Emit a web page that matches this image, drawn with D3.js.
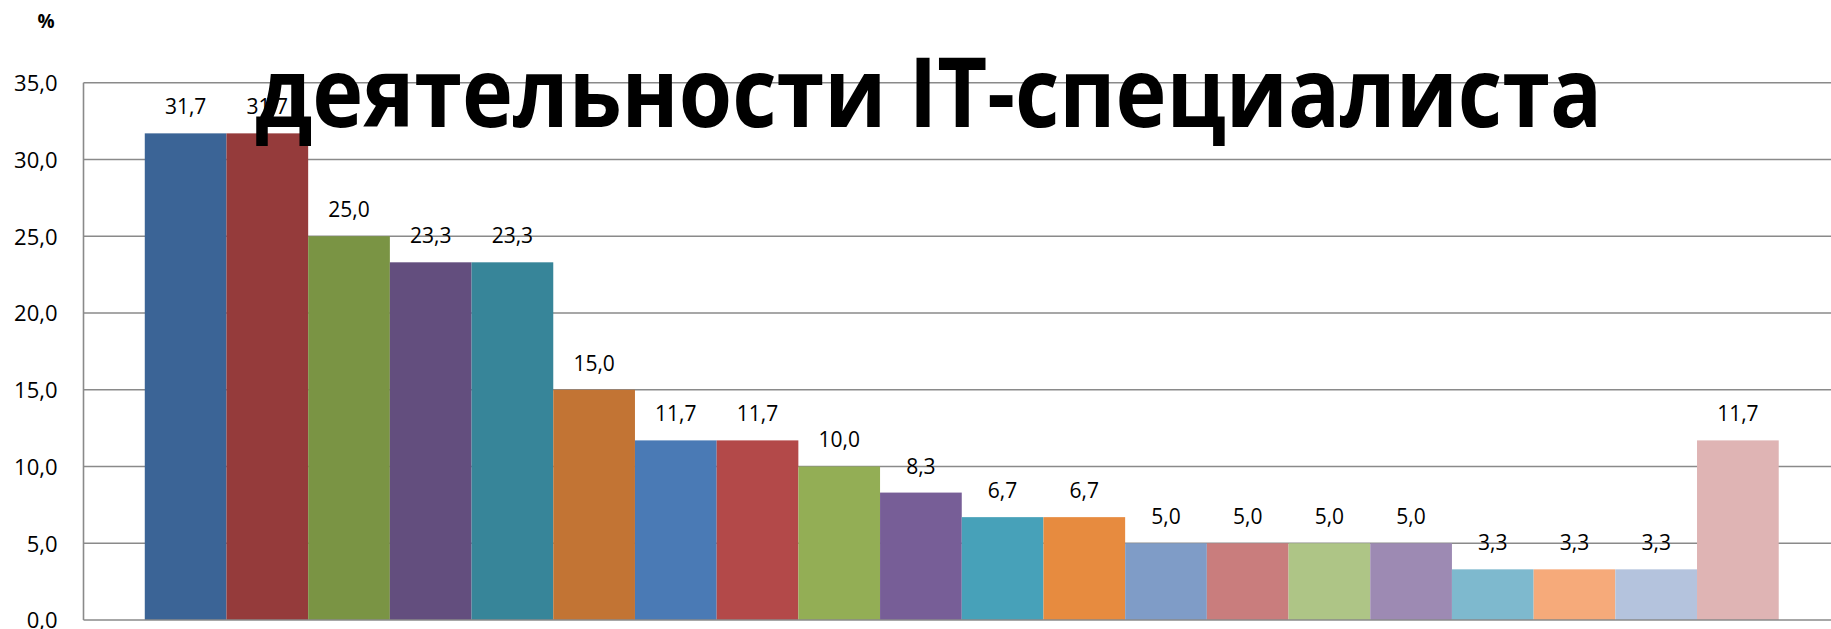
<!DOCTYPE html>
<html>
<head>
<meta charset="utf-8">
<script src="https://cdn.jsdelivr.net/npm/d3@7"></script>
<style>
  html, body { margin: 0; padding: 0; background: #fff; }
  svg { display: block; }
</style>
</head>
<body>
<div id="chart"></div>
<script>
// series (one bar each)
const series = ["s1", "s2", "s3", "s4", "s5", "s6", "s7", "s8", "s9", "s10",
    "s11", "s12", "s13", "s14", "s15", "s16", "s17", "s18", "s19", "s20"];
const values = [31.7, 31.7, 25.0, 23.3, 23.3, 15.0, 11.7, 11.7, 10.0, 8.3,
    6.7, 6.7, 5.0, 5.0, 5.0, 5.0, 3.3, 3.3, 3.3, 11.7];
const colors = ["#3b6496", "#953b3b", "#7a9444", "#634e7e", "#378599", "#c27434",
    "#4a7ab5", "#b34949", "#93ae55", "#775e97", "#47a1b9", "#e78b3f",
    "#7f9cc7", "#c97d7d", "#aec586", "#9d8ab3", "#7eb9ce", "#f6aa7a",
    "#b4c3dd", "#dfb4b4"];
const yTicks = [0, 5, 10, 15, 20, 25, 30, 35];
const titleText = "деятельности IT-специалиста";
const unitText = "%";

const width = 1831;
const height = 629;

// plot area runs a little past the right edge of the picture
const plot = { left: 83.5, right: 1840, top: 82.7, bottom: 620 };

const fmt = v => d3.format(".1f")(v).replace(".", ",");

const y = d3.scaleLinear()
    .domain([0, 35])
    .range([plot.bottom, plot.top]);

// one category holding 20 series, gap width 150%
const cat = d3.scaleBand()
    .domain(["c"])
    .range([plot.left, plot.right])
    .paddingOuter(0);
const barW = cat.bandwidth() / (series.length + 1.5);
const x = d3.scaleBand()
    .domain(series)
    .range([plot.left + barW * 0.75, plot.right - barW * 0.75])
    .padding(0);

const svg = d3.select("#chart")
    .append("svg")
    .attr("width", width)
    .attr("height", height)
    .attr("viewBox", [0, 0, width, height]);

// gridlines
svg.append("g")
    .selectAll("line")
    .data(yTicks.filter(d => d > 0))
    .join("line")
    .attr("x1", plot.left)
    .attr("x2", plot.right)
    .attr("y1", d => y(d))
    .attr("y2", d => y(d))
    .attr("stroke", "#8a8a8a")
    .attr("stroke-width", 1.6);

// y axis labels
const yAxis = svg.append("g")
    .attr("transform", `translate(${plot.left},0)`)
    .call(d3.axisLeft(y).tickValues(yTicks).tickFormat(fmt).tickSize(0).tickPadding(26));
yAxis.select(".domain").remove();
yAxis.selectAll("text")
    .attr("dy", "0.36em")
    .style("font-family", "'Open Sans', sans-serif")
    .style("font-size", "22px")
    .attr("fill", "#000");

// bars
svg.append("g")
    .selectAll("rect")
    .data(values)
    .join("rect")
    .attr("x", (d, i) => x(series[i]))
    .attr("width", x.bandwidth())
    .attr("y", d => y(d))
    .attr("height", d => y(0) - y(d))
    .attr("fill", (d, i) => colors[i]);

// axis lines
svg.append("line")
    .attr("x1", plot.left).attr("x2", plot.left)
    .attr("y1", plot.top).attr("y2", plot.bottom)
    .attr("stroke", "#8a8a8a")
    .attr("stroke-width", 1.6);
svg.append("line")
    .attr("x1", plot.left).attr("x2", plot.right)
    .attr("y1", plot.bottom).attr("y2", plot.bottom)
    .attr("stroke", "#8a8a8a")
    .attr("stroke-width", 1.6);

// value labels
svg.append("g")
    .selectAll("text")
    .data(values)
    .join("text")
    .attr("x", (d, i) => x(series[i]) + x.bandwidth() / 2)
    .attr("y", d => y(d) - 19)
    .attr("text-anchor", "middle")
    .style("font-family", "'Open Sans', sans-serif")
    .style("font-size", "21px")
    .attr("fill", "#000")
    .text(d => fmt(d));

// unit label
svg.append("text")
    .attr("x", 46)
    .attr("y", 28)
    .attr("text-anchor", "middle")
    .style("font-family", "'Open Sans', sans-serif")
    .style("font-weight", "bold")
    .style("font-size", "19px")
    .text(unitText);

// title, drawn over the chart
svg.append("text")
    .attr("x", 255)
    .attr("y", 127)
    .attr("textLength", 1347)
    .attr("lengthAdjust", "spacingAndGlyphs")
    .style("font-family", "'Open Sans', sans-serif")
    .style("font-weight", "bold")
    .style("font-size", "97px")
    .attr("fill", "#000")
    .text(titleText);
</script>
</body>
</html>
